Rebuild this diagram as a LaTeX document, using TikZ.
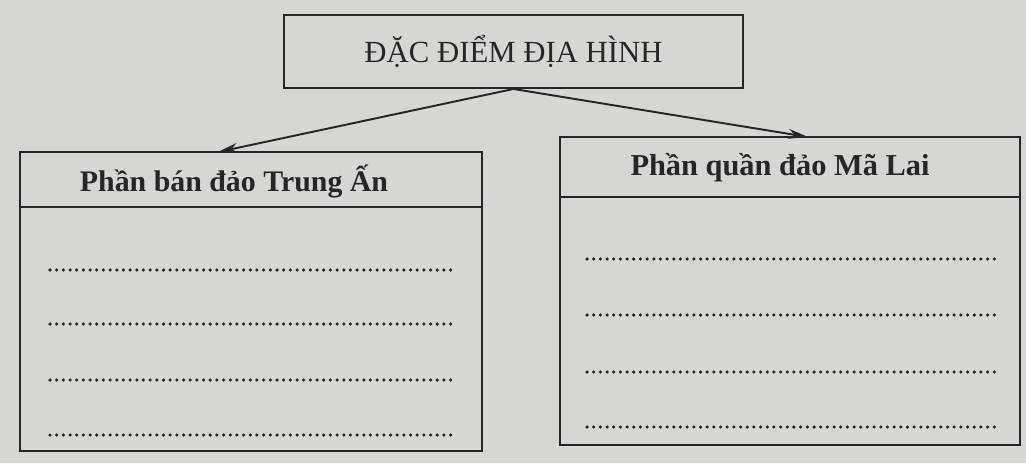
\documentclass[tikz,border=0pt]{standalone}
\usepackage{fontspec}
\setmainfont{Liberation Serif}
\usetikzlibrary{positioning,arrows.meta}

\definecolor{paper}{RGB}{214,214,210}
\definecolor{ink}{RGB}{38,38,36}

\begin{document}
\begin{tikzpicture}[x=0.02cm, y=-0.02cm,
  box/.style={draw=ink, line width=1.1pt},
  dots/.style={draw=ink, line width=2pt, line cap=round, dash pattern=on 0pt off 3.8pt},
  link/.style={draw=ink, line width=1.1pt, -{Stealth[length=4mm, width=2mm, inset=1.3mm]}}]

\def\xl{20};
\def\xm{482};
\def\xn{560};
\def\xr{1020};

\def\ya{152};
\def\yb{207};
\def\yc{451};
\def\yd{137};
\def\ye{197};
\def\yf{445};

% page
\fill[paper] (0,0) rectangle (1026,463);
\useasboundingbox (0,0) rectangle (1026,463);

% title
\node(title) at (513.5,51.5) [box, minimum width=9.18cm, minimum height=1.46cm,
  font=\fontsize{17.5}{20}\selectfont, text=ink] {ĐẶC ĐIỂM ĐỊA HÌNH};

% left part
\draw[box] (\xl,\ya) rectangle (\xm,\yc);
\draw[box] (\xl,\yb) -- (\xm,\yb);
\node(lhead) at (234,181) [font=\fontsize{17}{20}\selectfont\bfseries, text=ink] {Phần bán đảo Trung Ấn};
\coordinate(lend) at (218,\ya);

\draw[dots] (50,270) -- (452,270);
\draw[dots] (50,324) -- (452,324);
\draw[dots] (50,380) -- (452,380);
\draw[dots] (50,435) -- (452,435);

% right part
\draw[box] (\xn,\yd) rectangle (\xr,\yf);
\draw[box] (\xn,\ye) -- (\xr,\ye);
\node(rhead) at (780,168) [font=\fontsize{17.3}{20}\selectfont\bfseries, text=ink] {Phần quần đảo Mã Lai};
\coordinate(rend) at (808,\yd);

\draw[dots] (587,259) -- (999,259);
\draw[dots] (587,315) -- (999,315);
\draw[dots] (587,372) -- (999,372);
\draw[dots] (587,427) -- (999,427);

\draw[link] (title.south) -- (lend);
\draw[link] (title.south) -- (rend);

\end{tikzpicture}
\end{document}
